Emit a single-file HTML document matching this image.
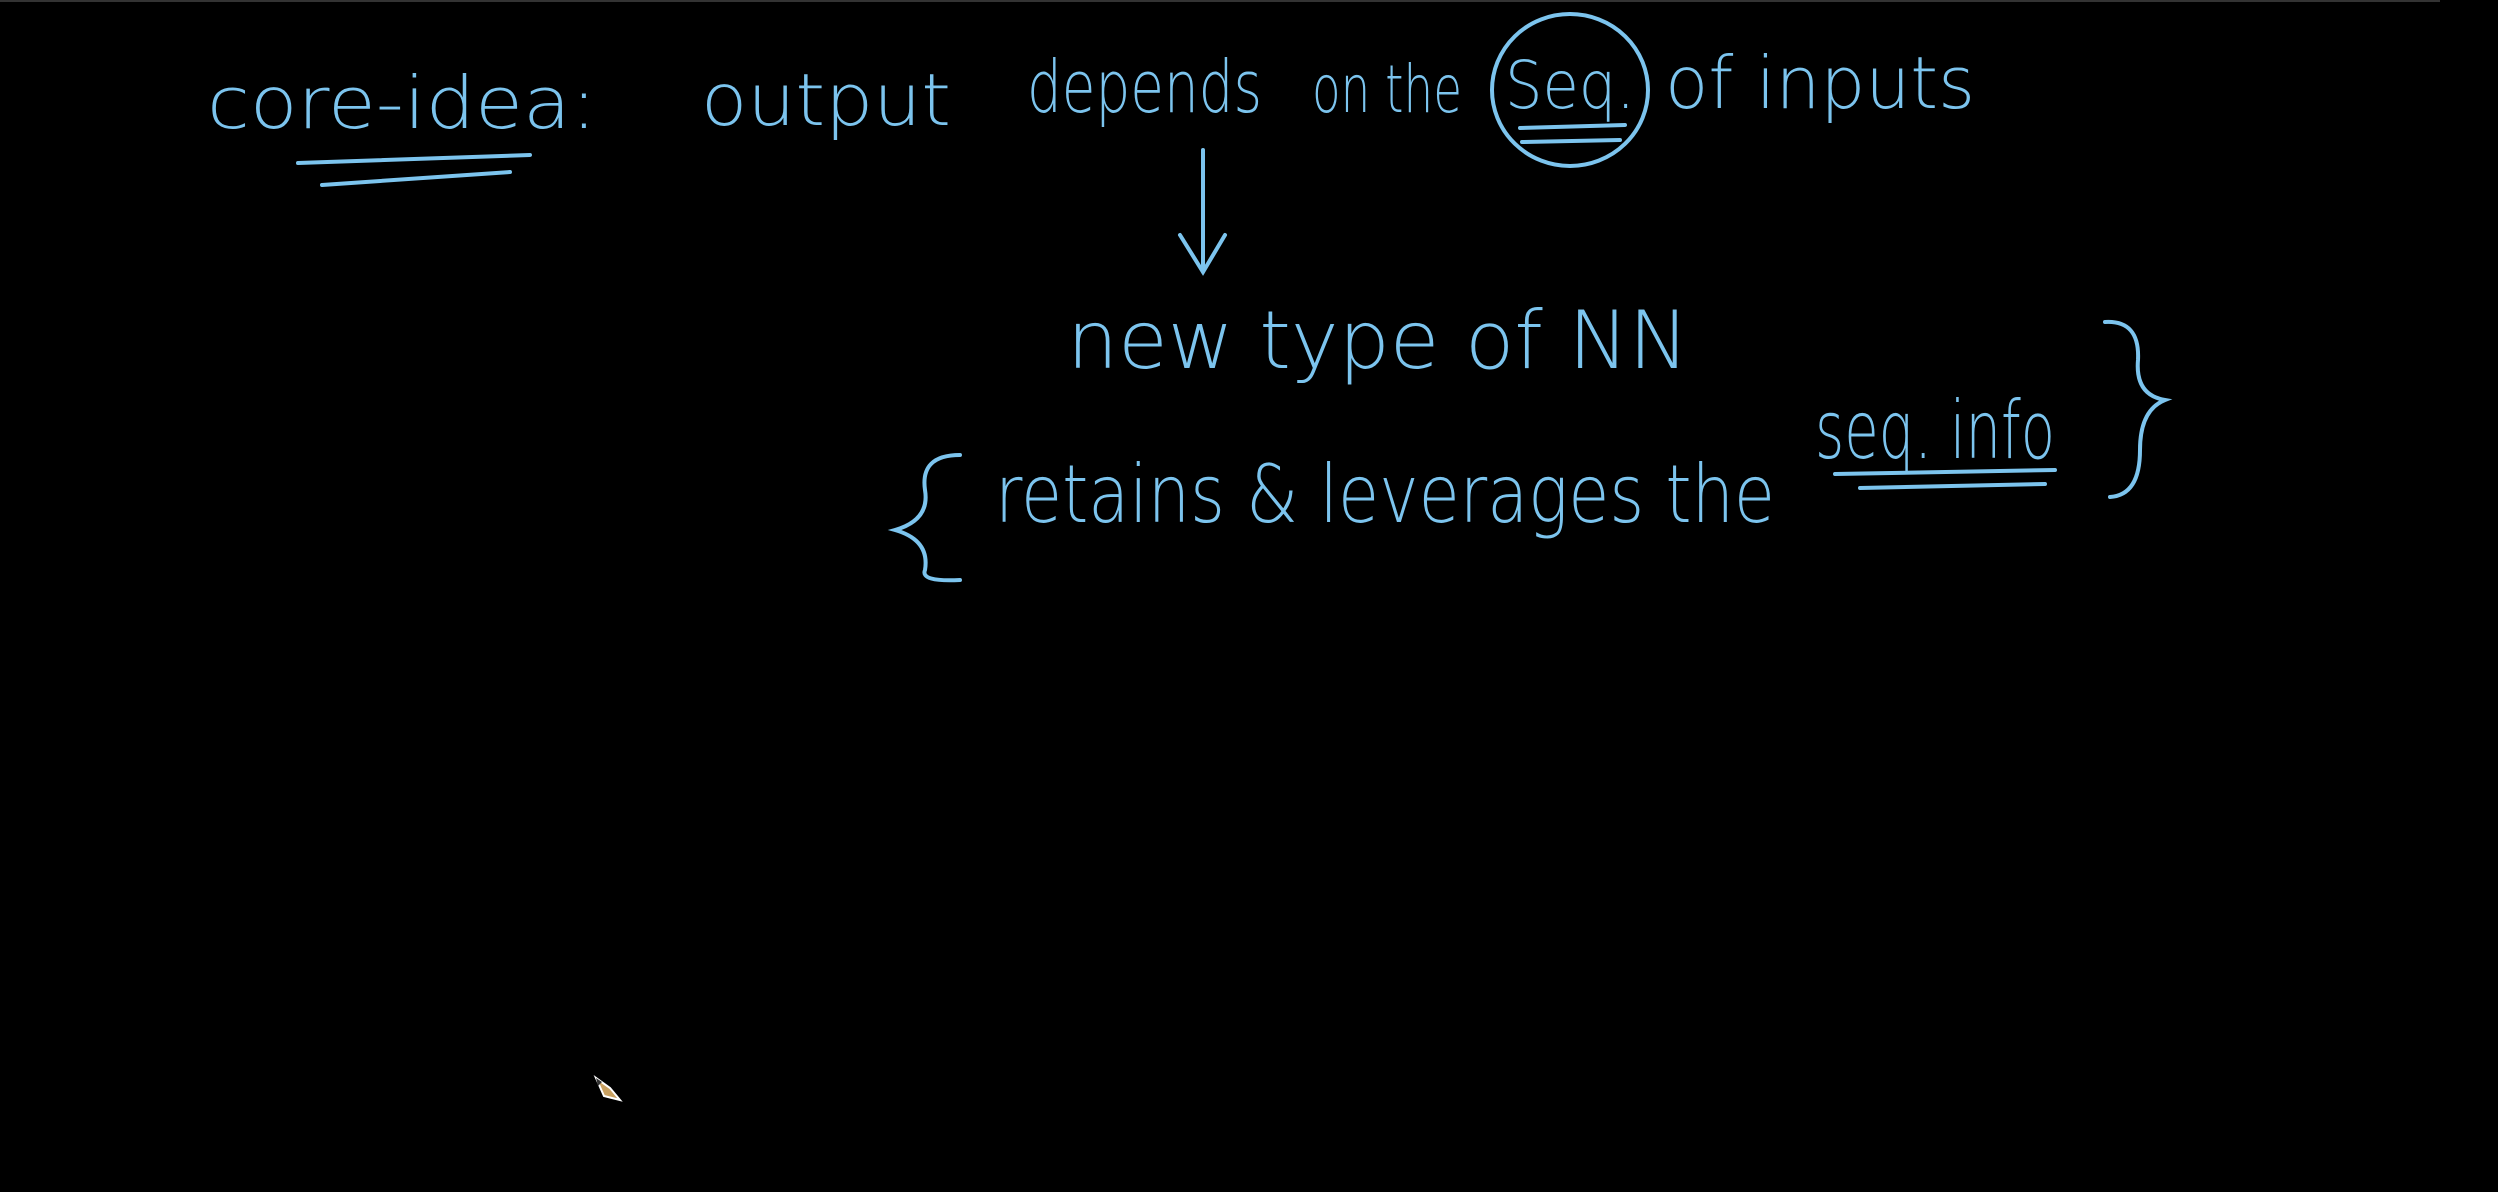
<!DOCTYPE html>
<html><head><meta charset="utf-8"><style>
html,body{margin:0;padding:0;background:#000;width:2498px;height:1192px;overflow:hidden}
svg{display:block}
text{font-family:"DejaVu Sans","Liberation Sans",sans-serif;fill:#7cc4ee;font-weight:200}
</style></head><body>
<svg width="2498" height="1192" viewBox="0 0 2498 1192">
<rect x="0" y="0" width="2498" height="1192" fill="#000"/>
<line x1="0" y1="1" x2="2440" y2="1" stroke="#333" stroke-width="2"/>
<g stroke="#7cc4ee" stroke-width="4" fill="none" stroke-linecap="round">
<text x="207" y="128" font-size="72" textLength="390" lengthAdjust="spacingAndGlyphs" stroke="none">core-idea:</text>
<path d="M298 163 L530 155 M322 185 L510 172"/>
<text x="701" y="125" font-size="72" textLength="250" lengthAdjust="spacingAndGlyphs" stroke="none">output</text>
<text x="1027" y="112" font-size="72" textLength="235" lengthAdjust="spacingAndGlyphs" stroke="none">depends</text>
<text x="1312" y="112" font-size="66" textLength="150" lengthAdjust="spacingAndGlyphs" stroke="none">on the</text>
<text x="1505" y="108" font-size="66" textLength="130" lengthAdjust="spacingAndGlyphs" stroke="none">Seq.</text>
<ellipse cx="1570" cy="90" rx="78" ry="76"/>
<path d="M1520 128 L1625 125 M1522 142 L1620 140"/>
<text x="1665" y="108" font-size="72" textLength="310" lengthAdjust="spacingAndGlyphs" stroke="none">of inputs</text>
<path d="M1203 150 L1203 272 M1180 235 L1203 272 L1225 235"/>
<text x="1067" y="368" font-size="80" textLength="622" lengthAdjust="spacingAndGlyphs" stroke="none">new type of NN</text>
<path d="M960 455 Q920 455 925 490 Q930 520 895 530 Q930 540 925 570 Q920 582 960 580"/>
<text x="995" y="522" font-size="80" textLength="780" lengthAdjust="spacingAndGlyphs" stroke="none">retains &amp; leverages the</text>
<text x="1815" y="458" font-size="80" textLength="240" lengthAdjust="spacingAndGlyphs" stroke="none">seq. info</text>
<path d="M1835 474 L2055 470 M1860 488 L2045 484"/>
<path d="M2105 322 Q2140 320 2138 360 Q2135 395 2165 400 Q2140 410 2140 450 Q2140 495 2110 497"/>
</g>
<g>
<path d="M596 1078 L610 1088 L620 1100 L604 1096 Z" fill="#c8a060" stroke="#fff" stroke-width="2"/>
<path d="M596 1078 L602 1082 L598 1086 Z" fill="#333"/>
</g>
</svg>
</body></html>
